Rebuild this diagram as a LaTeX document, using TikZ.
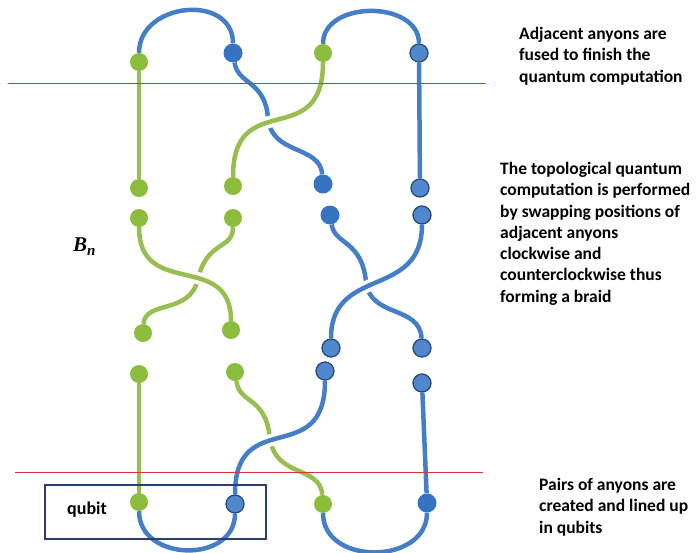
\documentclass[tikz,border=0pt]{standalone}
\usepackage{fontspec}
\setmainfont{Carlito}
\newfontfamily\braidfont{Liberation Serif}

\definecolor{linegreen}{RGB}{150,190,80}
\definecolor{dotgreen}{RGB}{140,188,60}
\definecolor{lineblue}{RGB}{68,125,200}
\definecolor{dotblue}{RGB}{55,115,195}
\definecolor{ringblue}{RGB}{80,135,205}
\definecolor{ringedge}{RGB}{40,75,125}
\definecolor{boxblue}{RGB}{40,65,110}
\definecolor{cutred}{RGB}{225,50,50}

\pgfdeclarelayer{strands}
\pgfsetlayers{strands,main}

\begin{document}
\begin{tikzpicture}
[
	x=1pt, y=-1pt,
	gdot/.style={circle,fill=dotgreen,inner sep=0pt,minimum size=18pt},
	bdot/.style={circle,fill=dotblue,inner sep=0pt,minimum size=19pt},
	bring/.style={circle,fill=ringblue,draw=ringedge,line width=1.3pt,inner sep=0pt,minimum size=18pt},
	gline/.style={draw=linegreen,line width=4.5pt},
	bline/.style={draw=lineblue,line width=4.5pt},
	over/.style={preaction={draw=white,line width=12pt}},
	note/.style={anchor=north west,align=left,inner sep=0pt,font=\bfseries\fontsize{17.5}{21.3}\selectfont},
	cut/.style={cutred,line width=1pt}
]
	\useasboundingbox (0,0) rectangle (698,552);

	% qubit box
	\node[draw=boxblue,line width=1.5pt,minimum width=221pt,minimum height=54pt,inner sep=0pt] (qubitbox) at (155.5,512) {};
	\node[anchor=base west,inner sep=0pt,font=\bfseries\fontsize{18}{22}\selectfont] (qubit) at (67,514) {qubit};

	% anyons, row by row
	\node[gdot] (a1) at (139,62) {};
	\node[bdot] (a2) at (233,53) {};
	\node[gdot] (a3) at (323,53) {};
	\node[bring] (a4) at (419,53) {};
	%
	\node[gdot] (b1) at (139,188) {};
	\node[gdot] (b2) at (233,186) {};
	\node[bdot] (b3) at (323,184) {};
	\node[bring] (b4) at (420,188) {};
	%
	\node[gdot] (c1) at (139,218) {};
	\node[gdot] (c2) at (233,218) {};
	\node[bdot] (c3) at (330,215) {};
	\node[bring] (c4) at (422,215) {};
	%
	\node[gdot] (d1) at (143,333) {};
	\node[gdot] (d2) at (231,330) {};
	\node[bring] (d3) at (331,348) {};
	\node[bring] (d4) at (422,348) {};
	%
	\node[gdot] (e1) at (139,374) {};
	\node[gdot] (e2) at (235,372) {};
	\node[bring] (e3) at (325,371) {};
	\node[bring] (e4) at (422,383) {};
	%
	\node[gdot] (f1) at (139,502) {};
	\node[bring] (f2) at (235,504) {};
	\node[gdot] (f3) at (323,504) {};
	\node[bdot] (f4) at (427,503) {};

	\begin{pgfonlayer}{strands}
	% strands passing under
	\draw[bline] (a2) .. controls (238,85) and (265,80) .. (268,118) .. controls (271,155) and (320,145) .. (b3);
	\draw[gline] (c2) .. controls (233,250) and (207,240) .. (198,279) .. controls (190,315) and (145,300) .. (d1);
	\draw[bline] (c3) .. controls (335,245) and (362,240) .. (366,282) .. controls (370,318) and (420,305) .. (d4);
	\draw[gline] (e2) .. controls (240,405) and (265,395) .. (270,438) .. controls (275,478) and (320,465) .. (f3);

	% strands passing over
	\draw[gline,over] (a3) .. controls +(0,100) and +(0,-100) .. (b2);
	\draw[gline,over] (c1) .. controls +(0,82) and +(0,-80) .. (d2);
	\draw[bline,over] (c4) .. controls +(0,85) and +(0,-83) .. (d3);
	\draw[bline,over] (e3) .. controls +(0,99) and +(0,-99) .. (f2);

	% pairs joined
	\draw[bline] (a1) .. controls +(0,-60) and +(0,-60) .. (a2);
	\draw[bline] (a3) .. controls +(0,-53) and +(0,-53) .. (a4);
	\draw[bline] (f1) .. controls +(0,60) and +(0,60) .. (f2);
	\draw[bline] (f3) .. controls +(0,62) and +(0,62) .. (f4);
	\draw[gline] (a1) -- (b1);
	\draw[bline] (a4) -- (b4);
	\draw[gline] (e1) -- (f1);
	\draw[bline] (e4) -- (f4);
	\end{pgfonlayer}

	% fusion and creation levels
	\draw[cut] (8,83.5) -- (485,83.5);
	\draw[cut] (15,472.5) -- (483,472.5);

	% braid group label
	\node[anchor=base west,inner sep=0pt,font=\braidfont\bfseries\itshape\fontsize{21}{24}\selectfont] (bn) at (73,251) {B\raisebox{-4pt}{\fontsize{15}{15}\selectfont n}};

	% notes
	\node[note] (fuse) at (519,27) {Adjacent anyons are\\fused to finish the\\quantum computation};
	\node[note] (braid) at (500,162) {The topological quantum\\computation is performed\\by swapping positions of\\adjacent anyons\\clockwise and\\counterclockwise thus\\forming a braid};
	\node[note] (create) at (539,478) {Pairs of anyons are\\created and lined up\\in qubits};

\end{tikzpicture}
\end{document}
